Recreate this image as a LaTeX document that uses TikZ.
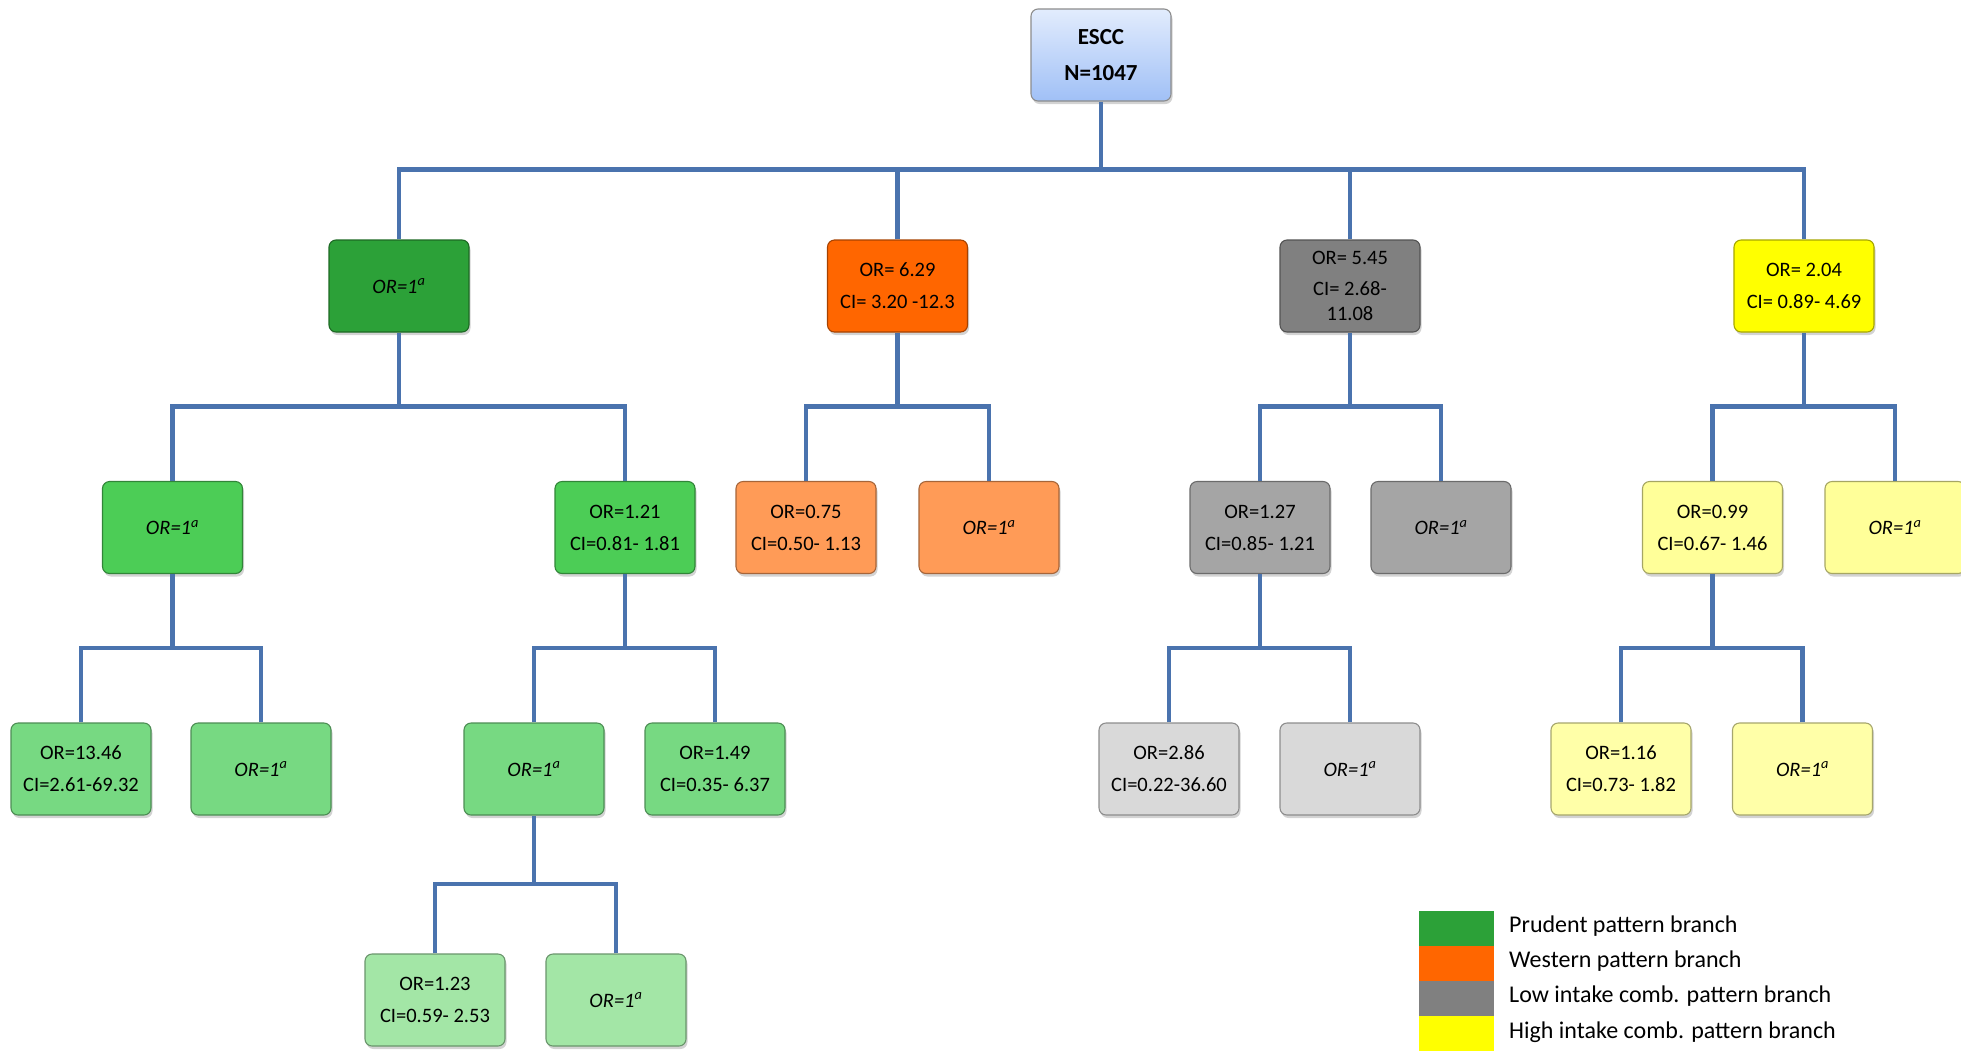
\documentclass[tikz,border=0pt]{standalone}
\usepackage{fontspec}
\setmainfont{Carlito}
\usetikzlibrary{shadows}
\definecolor{ga}{HTML}{2CA138}
\definecolor{gb}{HTML}{4CCD56}
\definecolor{gc}{HTML}{77D982}
\definecolor{gd}{HTML}{A3E6A6}
\definecolor{oa}{HTML}{FF6600}
\definecolor{ob}{HTML}{FF9B57}
\definecolor{ra}{HTML}{808080}
\definecolor{rb}{HTML}{A5A5A5}
\definecolor{rc}{HTML}{D9D9D9}
\definecolor{ya}{HTML}{FFFF00}
\definecolor{yb}{HTML}{FFFF99}
\definecolor{yc}{HTML}{FFFFA8}
\definecolor{conncol}{HTML}{4A73AE}
\definecolor{roottop}{HTML}{E2ECFD}
\definecolor{rootbot}{HTML}{A0C0F6}
\begin{document}
\begin{tikzpicture}[x=1pt,y=-1pt,
  box/.style={rectangle, rounded corners=7pt, minimum width=140pt, minimum height=92pt,
    inner sep=0pt, align=center, font=\fontsize{20.5}{25}\selectfont, line width=1.1pt,
    drop shadow={shadow xshift=1.5pt, shadow yshift=-3pt, opacity=0.35}},
  bx/.style={box, fill=#1, draw=#1!65!black},
  conn/.style={draw=conncol, line width=4.6pt},
  legsq/.style={rectangle, minimum width=75pt, minimum height=35pt, inner sep=0pt},
  legtxt/.style={anchor=west, inner sep=0pt, font=\fontsize{24}{28}\selectfont}]
\useasboundingbox (0,0) rectangle (1961,1050);
\newcommand{\orone}{\textit{OR=1\textsuperscript{a}}}

% root
\node[box, top color=roottop, bottom color=rootbot, draw=black!45,
  font=\fontsize{23}{36}\selectfont\bfseries] (root) at (1101,55) {ESCC\\N=1047};

% level 1
\node[bx=ga] (p1) at (399,286) {\orone};
\node[bx=oa] (w1) at (897.5,286) {OR= 6.29\\[7pt]CI= 3.20 -12.3};
\node[bx=ra] (l1) at (1350,286) {OR= 5.45\\[6pt]CI= 2.68-\\11.08};
\node[bx=ya] (h1) at (1804,286) {OR= 2.04\\[7pt]CI= 0.89- 4.69};

% level 2
\node[bx=gb] (p2a) at (172.5,527.5) {\orone};
\node[bx=gb] (p2b) at (625,527.5) {OR=1.21\\[7pt]CI=0.81- 1.81};
\node[bx=ob] (w2a) at (806,527.5) {OR=0.75\\[7pt]CI=0.50- 1.13};
\node[bx=ob] (w2b) at (989,527.5) {\orone};
\node[bx=rb] (l2a) at (1260,527.5) {OR=1.27\\[7pt]CI=0.85- 1.21};
\node[bx=rb] (l2b) at (1441,527.5) {\orone};
\node[bx=yb] (h2a) at (1712.5,527.5) {OR=0.99\\[7pt]CI=0.67- 1.46};
\node[bx=yb] (h2b) at (1895,527.5) {\orone};

% level 3
\node[bx=gc] (p3a) at (81,769) {OR=13.46\\[7pt]CI=2.61-69.32};
\node[bx=gc] (p3b) at (261,769) {\orone};
\node[bx=gc] (p3c) at (534,769) {\orone};
\node[bx=gc] (p3d) at (715,769) {OR=1.49\\[7pt]CI=0.35- 6.37};
\node[bx=rc] (l3a) at (1169,769) {OR=2.86\\[7pt]CI=0.22-36.60};
\node[bx=rc] (l3b) at (1350,769) {\orone};
\node[bx=yc] (h3a) at (1621,769) {OR=1.16\\[7pt]CI=0.73- 1.82};
\node[bx=yc] (h3b) at (1802.5,769) {\orone};

% level 4
\node[bx=gd] (p4a) at (435,1000) {OR=1.23\\[7pt]CI=0.59- 2.53};
\node[bx=gd] (p4b) at (616,1000) {\orone};

% connectors
\foreach \c in {p1,w1,l1,h1}
  \draw[conn] (\c.north) -- ++(0,-70) -| (root.south);
\foreach \c in {p2a,p2b} \draw[conn] (\c.north) -- ++(0,-74.5) -| (p1.south);
\foreach \c in {w2a,w2b} \draw[conn] (\c.north) -- ++(0,-74.5) -| (w1.south);
\foreach \c in {l2a,l2b} \draw[conn] (\c.north) -- ++(0,-74.5) -| (l1.south);
\foreach \c in {h2a,h2b} \draw[conn] (\c.north) -- ++(0,-74.5) -| (h1.south);
\foreach \c in {p3a,p3b} \draw[conn] (\c.north) -- ++(0,-74.5) -| (p2a.south);
\foreach \c in {p3c,p3d} \draw[conn] (\c.north) -- ++(0,-74.5) -| (p2b.south);
\foreach \c in {l3a,l3b} \draw[conn] (\c.north) -- ++(0,-74.5) -| (l2a.south);
\foreach \c in {h3a,h3b} \draw[conn] (\c.north) -- ++(0,-74.5) -| (h2a.south);
\foreach \c in {p4a,p4b} \draw[conn] (\c.north) -- ++(0,-69.5) -| (p3c.south);

% legend
\node[legsq, fill=ga] (k1) at (1456.5,928.5) {};
\node[legsq, fill=oa] (k2) at (1456.5,963.5) {};
\node[legsq, fill=ra] (k3) at (1456.5,998.5) {};
\node[legsq, fill=ya] (k4) at (1456.5,1033.5) {};
\node[legtxt] (t1) at (1509,926) {Prudent pattern branch};
\node[legtxt] (t2) at (1509,961) {Western pattern branch};
\node[legtxt] (t3) at (1509,996) {Low intake comb. pattern branch};
\node[legtxt] (t4) at (1509,1032) {High intake comb. pattern branch};
\end{tikzpicture}
\end{document}
